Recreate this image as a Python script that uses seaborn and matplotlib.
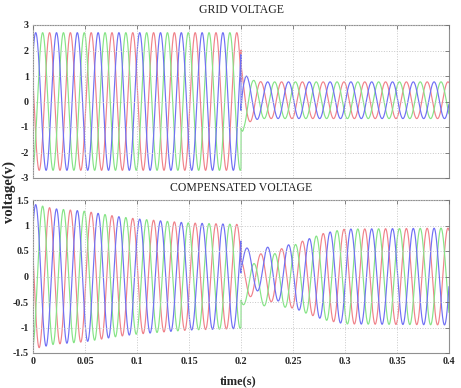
import numpy as np
import pandas as pd
import seaborn as sns
import matplotlib
matplotlib.use("Agg")
import matplotlib.pyplot as plt
from matplotlib.ticker import FuncFormatter

# ---------------- data ----------------
FREQ_HZ = 50
PHASES = ["blue", "green", "red"]
PHASE_DEG_AT_T0 = [43, -77, 163]          # blue leads, green lags 120, red lags 240
POST_SAG_SHIFT_DEG = -55                  # phase change after the sag at 0.2 s
SAG_TIME = 0.2

# GRID VOLTAGE amplitude envelope
grid_env_t = [0.0, 0.2, 0.2001, 0.203, 0.207, 0.212, 0.22, 0.4]
grid_env_a = [2.7, 2.7, 1.45, 1.05, 0.88, 0.78, 0.72, 0.72]
grid_dc = 0.05

# COMPENSATED VOLTAGE amplitude envelope
comp_env_t = [0.0, 0.005, 0.02, 0.05, 0.08, 0.1, 0.13, 0.15, 0.2,
              0.2001, 0.21, 0.22, 0.24, 0.26, 0.28, 0.3, 0.4]
comp_env_a = [1.42, 1.4, 1.33, 1.28, 1.18, 1.13, 1.08, 1.05, 1.02,
              0.35, 0.4, 0.45, 0.55, 0.7, 0.85, 0.93, 0.95]
# DC offsets of each phase during the recovery transient
comp_dc_t = [0.2, 0.215, 0.235, 0.26]
comp_dc_blue = [0.2, 0.15, 0.05, 0.0]
comp_dc_green = [-0.2, -0.15, -0.05, 0.0]
comp_dc_red = [0.0, 0.0, 0.0, 0.0]

x_ticks = [0, 0.05, 0.1, 0.15, 0.2, 0.25, 0.3, 0.35, 0.4]
x_tick_labels = ["0", "0.05", "0.1", "0.15", "0.2", "0.25", "0.3", "0.35", "0.4"]
grid_y_ticks = [-3, -2, -1, 0, 1, 2, 3]
comp_y_ticks = [-1.5, -1, -0.5, 0, 0.5, 1, 1.5]

COLORS = {"blue": "#7070f4", "green": "#86e486", "red": "#f0828a"}

# ---------------- build the waveforms ----------------
t = np.linspace(0, 0.4, 8001)
post = t > SAG_TIME


def wave(env_t, env_a, phase_deg, dc):
    env = np.interp(t, env_t, env_a)
    ph = np.deg2rad(phase_deg) + np.where(post, np.deg2rad(POST_SAG_SHIFT_DEG), 0.0)
    return env * np.sin(2 * np.pi * FREQ_HZ * t + ph) + dc


rows = []
comp_dc = {"blue": comp_dc_blue, "green": comp_dc_green, "red": comp_dc_red}
for name, pdeg in zip(PHASES, PHASE_DEG_AT_T0):
    g = wave(grid_env_t, grid_env_a, pdeg, np.where(post, grid_dc, 0.0))
    rows.append(pd.DataFrame({"t": t, "v": g, "phase": name, "panel": "grid"}))
    dc = np.where(post, np.interp(t, comp_dc_t, comp_dc[name]), 0.0)
    c = wave(comp_env_t, comp_env_a, pdeg, dc)
    rows.append(pd.DataFrame({"t": t, "v": c, "phase": name, "panel": "comp"}))
df = pd.concat(rows, ignore_index=True)

# ---------------- plot ----------------
sns.set_theme(style="white")
plt.rcParams["font.family"] = ["Liberation Serif", "DejaVu Serif"]

fig = plt.figure(figsize=(4.61, 3.88), dpi=100)
ax1 = fig.add_axes([33 / 461, 1 - 178 / 388, 416 / 461, 153 / 388])
ax2 = fig.add_axes([33 / 461, 1 - 353 / 388, 416 / 461, 153 / 388])

fmt = FuncFormatter(lambda v, p: f"{v:g}")
for ax, panel, title, yt, pad in [(ax1, "grid", "GRID VOLTAGE", grid_y_ticks, 8.5),
                                   (ax2, "comp", "COMPENSATED VOLTAGE", comp_y_ticks, 6.5)]:
    sns.lineplot(data=df[df.panel == panel], x="t", y="v", hue="phase",
                 hue_order=["red", "green", "blue"], palette=COLORS,
                 estimator=None, errorbar=None, sort=False, legend=False,
                 linewidth=0.85, ax=ax)
    ax.set_xlim(0, 0.4)
    ax.set_ylim(yt[0], yt[-1])
    ax.set_xticks(x_ticks)
    ax.set_yticks(yt)
    ax.yaxis.set_major_formatter(fmt)
    ax.set_xlabel("")
    ax.set_ylabel("")
    ax.set_axisbelow(False)
    ax.grid(True, linestyle=":", color="#c8c8c8", linewidth=0.7)
    ax.tick_params(direction="in", length=3, width=0.6, color="#707070",
                   top=True, right=True, labelsize=7.2, pad=3)
    for lab in ax.get_yticklabels():
        lab.set_fontweight("bold")
    for s in ax.spines.values():
        s.set_color("#909090")
        s.set_linewidth(0.8)
    ax.set_title(title, fontsize=8.5, pad=pad, color="#222222")

ax1.set_xticklabels([])
ax2.set_xticklabels(x_tick_labels, fontweight="bold")

fig.text(0.02, 1 - 192 / 388, "voltage(v)", rotation=90, ha="center", va="center",
         fontsize=10.5, fontweight="bold")
fig.text(238 / 461, 1 - 381 / 388, "time(s)", ha="center", va="center",
         fontsize=9, fontweight="bold")

fig.savefig("out.png", dpi=100)
